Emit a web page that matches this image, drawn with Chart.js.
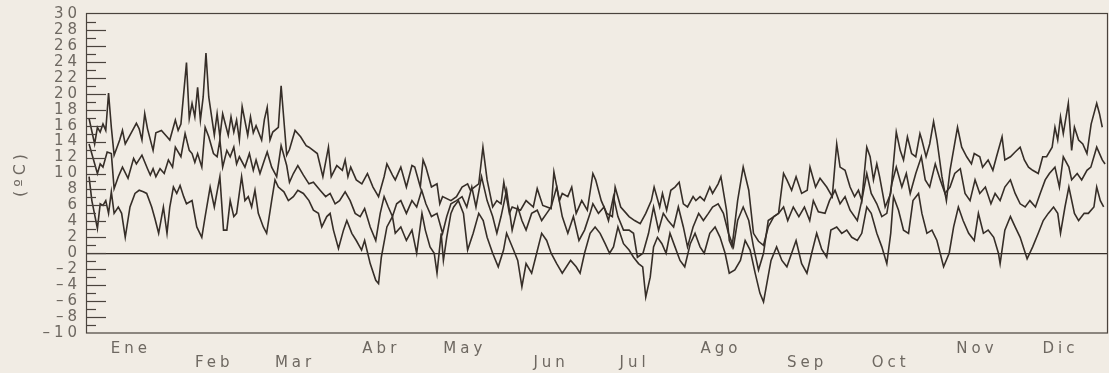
<!DOCTYPE html>
<html>
<head>
<meta charset="utf-8">
<script src="https://cdn.jsdelivr.net/npm/chart.js@4.4.1/dist/chart.umd.min.js"></script>
<style>
html, body { margin: 0; padding: 0; background: #f1ece4; }
#cont { width: 1109px; height: 373px; }
</style>
</head>
<body>
<div id="cont"><canvas id="grafico" width="1109" height="373"></canvas></div>
<script>
// etiquetas del eje x (a mitad de cada mes) y del eje y
const meses = ['Ene', 'Feb', 'Mar', 'Abr', 'May', 'Jun', 'Jul', 'Ago', 'Sep', 'Oct', 'Nov', 'Dic'];
const mitadMes = [15, 45, 74, 105, 135, 166, 196, 227, 258, 288, 319, 349];
const filaMes = [0, 1, 1, 0, 0, 1, 1, 0, 1, 1, 0, 0];
const ticksY = [-10, -8, -6, -4, -2, 0, 2, 4, 6, 8, 10, 12, 14, 16, 18, 20, 22, 24, 26, 28, 30];

// [dia del año, temperatura ºC]
const maximas = [
  [0,16.9],[2,13.7],[3,15.8],[4,15.2],[5,16.2],[6,15.4],[7,20.1],[8,15.8],[9,12.3],[11,14.2],
  [12,15.4],[13,13.7],[15,15.0],[17,16.3],[18,15.6],[19,14.2],[20,17.5],[21,15.6],[23,12.9],[24,15.1],
  [26,15.4],[28,14.6],[29,14.2],[31,16.7],[32,15.4],[33,16.2],[35,23.9],[36,16.9],[37,18.8],[38,17.1],
  [39,20.8],[40,16.7],[41,19.6],[42,25.1],[43,19.6],[45,14.8],[46,17.5],[47,14.6],[48,17.5],[50,14.8],
  [51,17.1],[52,15.2],[53,16.7],[54,14.2],[55,18.4],[57,14.8],[58,17.1],[59,15.1],[60,16.0],[62,14.2],
  [63,16.8],[64,18.3],[65,14.2],[66,15.2],[68,15.8],[69,21.0],[71,12.3],[72,13.0],[74,15.4],[76,14.6],
  [78,13.5],[79,13.3],[82,12.5],[84,9.6],[86,13.3],[87,9.6],[89,11.0],[91,10.4],[92,11.7],[93,9.6],
  [94,10.8],[96,9.2],[98,8.7],[100,10.0],[102,8.3],[104,7.1],[106,9.6],[107,11.2],[109,9.8],[110,9.2],
  [112,10.8],[114,8.3],[116,11.0],[117,10.8],[119,8.3],[120,11.7],[121,10.8],[123,8.3],[125,8.7],[126,6.2],
  [127,7.1],[130,6.6],[132,7.1],[134,8.3],[136,8.7],[137,7.9],[140,8.7],[141.5,13.3],[143,9.2],[145,5.8],
  [146.5,6.6],[148,6.2],[149,8.9],[151,5.0],[152,5.8],[155,5.4],[157,6.6],[159.6,5.8],[161,8.1],[163,6.0],
  [166,5.6],[167,10.2],[169,6.6],[170,7.5],[172,7.1],[173.4,8.3],[175,5.0],[177,6.6],[179,5.4],[181,10.0],
  [182,9.2],[184,6.6],[186,5.0],[188,4.6],[189,8.3],[191,5.8],[193,5.0],[194,4.6],[196,4.1],[198,3.7],
  [200,5.0],[202,6.6],[203,8.3],[205,5.8],[206,7.5],[207.5,5.4],[209,7.9],[210.5,8.3],[212,8.9],[213.5,6.2],
  [215,5.8],[217,7.1],[218,6.6],[219.5,7.1],[221,6.6],[223,8.3],[224,7.5],[226,8.7],[227,9.6],[229,5.4],
  [230,1.6],[231,0.8],[233,6.6],[235,10.8],[237,7.9],[238.7,2.5],[240.5,1.5],[242.3,1.0],[244,3.3],[246,4.6],
  [247.7,5.0],[249.5,10.0],[250.7,9.2],[252.4,7.9],[254,9.6],[256,7.5],[258,7.9],[259,10.8],[261,8.3],[262.6,9.4],
  [265,8.3],[267,7.1],[268.6,13.7],[269.8,10.8],[271.6,10.4],[273.4,8.3],[275,7.1],[276.4,7.9],[277.6,6.6],[279.4,13.3],
  [280.6,12.1],[281.8,9.2],[283,11.2],[284,9.6],[286,5.8],[288,7.5],[290,15.2],[291.4,12.9],[292.6,11.7],[294,14.6],
  [295.5,12.5],[297,12.1],[298.5,15.0],[299.2,14.2],[300.7,12.1],[302,13.7],[303.4,16.5],[304.6,14.2],[306.4,9.6],[308,6.6],
  [309.3,10.4],[312,15.8],[313.5,13.3],[315.3,12.1],[317,11.2],[318,12.5],[320,12.1],[321,10.8],[323,11.7],[324.7,10.4],
  [326,12.1],[328,14.6],[329,11.7],[331,12.1],[332.7,12.7],[334.5,13.3],[336,11.7],[337.5,10.8],[339,10.4],[341,10.0],
  [342.6,12.1],[344,12.1],[346,13.3],[347,15.8],[348,14.2],[349,17.1],[350,15.0],[351.8,18.8],[353,12.9],[354,15.8],
  [355.5,14.2],[357,13.7],[358.5,12.5],[360,16.2],[362,18.8],[363,17.5],[364,15.8]
];

const medias = [
  [0,13.7],[3,10.0],[4,11.2],[5,10.8],[6.5,12.7],[8,12.5],[9,8.1],[10.5,9.6],[12,10.8],[14,9.4],
  [16,11.9],[17,11.2],[19,12.3],[21,10.6],[22,9.8],[23,10.6],[24,9.6],[25.5,10.6],[27,10.0],[28.5,11.7],
  [30,10.8],[31,13.3],[33,12.1],[34.5,15.0],[36,12.9],[37,12.5],[38,11.4],[39,12.5],[40.5,10.8],[41.7,15.8],
  [43,14.6],[44.7,12.5],[46,12.1],[47,14.2],[48,10.8],[49.5,12.9],[50.7,12.1],[52,13.3],[53,11.2],[54,12.1],
  [56,10.8],[57.6,12.5],[59,10.4],[60,11.7],[61.4,10.0],[63,11.7],[64,12.7],[65.6,10.8],[67.4,9.6],[69,13.5],
  [71,11.0],[72,8.9],[73.4,10.0],[75,11.0],[77,9.8],[79,8.7],[80.6,8.9],[83,7.9],[85,7.1],[86.6,7.5],
  [88.4,6.2],[90,6.6],[92,7.7],[93.8,6.6],[95.6,5.0],[97.4,4.6],[99,5.6],[101,3.3],[103,1.6],[104.6,5.0],
  [106,7.1],[107.5,5.8],[109,4.6],[110.5,6.2],[112,6.6],[114,5.0],[116,6.6],[117.7,5.8],[119.5,7.9],[121,6.2],
  [123,4.6],[125,5.0],[127,2.5],[128.5,4.6],[130,6.2],[132,6.6],[134,7.1],[135.7,5.8],[137.5,8.3],[139,5.8],
  [141,9.6],[143,6.6],[145,4.6],[146.5,2.5],[148,4.6],[150,7.9],[152,2.9],[154,5.8],[155.5,4.1],[157,2.9],
  [159,5.0],[161,5.4],[162.6,4.1],[164.4,5.0],[166,5.8],[168,8.3],[170,4.6],[172,2.5],[174,4.6],[176,1.6],
  [178,2.9],[180,5.0],[181,6.2],[183,5.0],[185,5.8],[186.6,4.1],[188.4,7.1],[190,4.6],[192,2.9],[194,2.9],
  [195.6,2.5],[197,-0.5],[199,0.0],[201,2.5],[202.8,5.8],[204.6,2.9],[206.3,5.0],[208,4.1],[210,3.3],[211.7,5.8],
  [213.5,3.3],[215,0.8],[217,3.3],[219,5.0],[220.7,4.1],[222.5,5.0],[224,5.8],[226,6.2],[227.9,5.0],[229.7,2.5],
  [231.5,0.8],[233,4.1],[235,5.8],[237,4.1],[238.7,0.8],[240.5,-2.1],[242.3,0.0],[244,4.1],[246,4.6],[247.7,5.0],
  [249.5,5.8],[251,4.1],[253,5.8],[255,4.6],[257,5.8],[258.9,4.1],[260.2,6.6],[262,5.2],[264.4,5.0],[266,6.6],
  [268,7.9],[269.8,6.2],[271.6,7.1],[273.4,5.4],[276,4.1],[277.6,6.6],[279.4,10.0],[281,7.5],[283,6.2],[284.8,4.6],
  [286.6,5.0],[288.4,8.7],[290,10.8],[292,8.3],[293.6,10.0],[295,7.5],[297,10.0],[299,12.1],[300.4,9.2],[302,8.3],
  [304,11.2],[305.8,9.2],[307.5,7.5],[309.3,8.3],[311,10.0],[313,10.6],[314.7,7.5],[316.5,6.6],[318.3,9.2],[320,7.5],
  [322,8.3],[324,6.2],[325.5,7.5],[327.3,6.6],[329,8.3],[331,9.2],[332.7,7.5],[334.5,6.2],[336.3,5.8],[338,6.6],
  [340,5.8],[341.7,7.5],[343.5,9.2],[345,10.0],[347,10.8],[348.6,8.3],[350,12.1],[352,10.8],[353,9.2],[355,10.0],
  [356.6,9.2],[358.5,10.4],[359.9,10.8],[362,13.3],[364,11.7],[365,11.2]
];

const minimas = [
  [0,9.6],[1,6.6],[3,3.1],[4,6.2],[5,6.0],[6,6.6],[7,5.0],[8,7.7],[9,5.0],[10.5,5.8],
  [11.7,5.0],[13,2.0],[14.7,5.8],[16.5,7.5],[18,7.9],[19.5,7.7],[20.7,7.5],[22.5,5.8],[23.7,4.3],[25,2.5],
  [26.7,5.8],[28,2.5],[29,5.8],[30.3,8.3],[31.5,7.5],[32.7,8.5],[34,7.1],[35,6.2],[37,6.6],[38.7,3.3],
  [40.5,2.0],[41.7,4.6],[43.5,8.3],[45,5.8],[47,9.6],[48.3,2.9],[49.5,2.9],[50.7,6.6],[52,4.6],[53,5.0],
  [54.8,9.6],[56,6.6],[57.2,7.1],[58.4,5.8],[59.6,7.9],[60.8,5.0],[62.6,3.3],[63.8,2.5],[65.6,6.6],[66.8,9.2],
  [68,8.3],[70,7.7],[71.6,6.6],[73.4,7.1],[75,7.9],[77,7.5],[79,6.6],[80.6,5.4],[82.4,5.0],[83.6,3.3],
  [85.4,4.6],[86.6,5.0],[87.8,2.9],[89.6,0.6],[91.4,2.9],[92.6,4.1],[94.4,2.5],[96,1.6],[97.9,0.4],[99,1.6],
  [101,-1.3],[103,-3.4],[104,-3.8],[105,-0.5],[107,3.3],[109,4.6],[110,2.5],[112,3.3],[114,1.6],[116,2.9],
  [117.7,0.0],[119.6,5.0],[120.8,2.9],[122.5,0.8],[124,0.0],[125,-2.5],[126.5,2.5],[127.3,-0.9],[128.5,2.0],[130,5.0],
  [131,5.8],[132.7,6.6],[134.5,5.0],[136,0.4],[138,2.5],[140,5.0],[141.6,4.1],[143,2.0],[145,0.0],[147,-1.7],
  [148.9,0.4],[150,2.5],[152.5,0.4],[154,-0.9],[155.5,-4.2],[157,-1.3],[159,-2.5],[160.8,0.0],[162.6,2.5],[164.4,1.6],
  [166,0.0],[168,-1.3],[170,-2.5],[173,-0.9],[175,-1.7],[176.4,-2.5],[178,0.0],[180,2.5],[181.8,3.3],[183.6,2.5],
  [185.4,1.2],[187,0.0],[188.4,0.8],[190,3.3],[192,1.2],[194,0.4],[195.6,-0.5],[197.4,-1.3],[198.9,-1.7],[200,-5.5],
  [201.6,-3.0],[202.8,0.8],[204.2,2.0],[205.8,1.2],[207.3,0.0],[208.7,2.5],[210.5,0.8],[212.3,-0.9],[214,-1.7],[216,1.2],
  [217.7,2.5],[219.5,0.8],[221,0.0],[223,2.5],[224.9,3.3],[226.7,2.0],[228.5,0.0],[230,-2.5],[232,-2.1],[234,-0.9],
  [235.7,1.6],[237.5,0.4],[239.3,-2.5],[241,-5.0],[242.3,-6.1],[243.7,-3.4],[245,-0.9],[247,0.8],[248.9,-0.9],[250.7,-1.7],
  [252.4,0.0],[254,1.6],[256,-1.3],[257.9,-2.5],[259.6,0.0],[261.4,2.5],[263.2,0.5],[265,-0.5],[266.5,2.9],[268.6,3.3],
  [270.4,2.5],[272.2,2.9],[274,2.0],[276,1.6],[277.6,2.5],[279.4,5.8],[281,5.0],[283,2.5],[284.8,0.8],[286.6,-1.3],
  [288,2.5],[289,7.1],[290.8,5.4],[292.6,2.9],[294.4,2.5],[296,6.6],[298,7.5],[299.2,5.0],[301,2.5],[302.8,2.9],
  [304.6,1.6],[307,-1.7],[309,0.0],[310.6,3.3],[312.3,5.8],[314,4.1],[316,2.5],[318,1.6],[319.5,5.0],[321.3,2.5],
  [323,2.9],[325,2.0],[326.7,0.0],[327.3,-1.3],[329,2.9],[331,4.6],[332.7,3.3],[334.5,2.0],[337,-0.7],[339,0.8],
  [341,2.5],[342.8,4.1],[344.6,5.0],[346.5,5.8],[348,5.0],[349,2.5],[350.6,5.8],[352,8.3],[354,5.0],[355.5,4.1],
  [357.5,5.0],[359,5.0],[361,5.8],[362,8.3],[363.3,6.6],[364.5,5.8]
];

const tinta = '#362e28';
const textoColor = '#6e6861';
const fuente = "'DejaVu Sans', sans-serif";

const marco = {
  id: 'marco',
  beforeLayout(chart) { chart.ctx.letterSpacing = '4px'; },
  beforeDraw(chart) {
    chart.ctx.letterSpacing = '4px';
  },
  afterDraw(chart) {
    const { ctx, chartArea: a, scales: { y } } = chart;
    ctx.save();
    ctx.strokeStyle = '#4a433d';
    ctx.lineWidth = 1.2;
    ctx.strokeRect(a.left + 0.5, a.top - 0.5, a.right - a.left, a.bottom - a.top + 0.5);
    // marcas hacia dentro del eje y
    for (let v = -9; v < 30; v++) {
      const py = Math.round(y.getPixelForValue(v)) + 0.5;
      const largo = v % 2 === 0 ? 20 : 10;
      ctx.beginPath();
      ctx.moveTo(a.left, py);
      ctx.lineTo(a.left + largo, py);
      ctx.stroke();
    }
    ctx.restore();
  }
};

function serie(puntos) {
  return {
    data: puntos.map(p => ({ x: p[0], y: p[1] })),
    borderColor: tinta,
    borderWidth: 1.6,
    pointRadius: 0,
    tension: 0,
    fill: false
  };
}

const ctx = document.getElementById('grafico').getContext('2d');
new Chart(ctx, {
  type: 'line',
  data: { datasets: [serie(maximas), serie(medias), serie(minimas)] },
  plugins: [marco],
  options: {
    responsive: false,
    animation: false,
    devicePixelRatio: 1,
    layout: { padding: { top: 14, right: 2, left: 0, bottom: 0 } },
    plugins: { legend: { display: false }, tooltip: { enabled: false } },
    scales: {
      x: {
        type: 'linear',
        min: -1.1,
        max: 365.7,
        afterFit(s) { s.height = 40; },
        afterBuildTicks(s) { s.ticks = mitadMes.map(v => ({ value: v })); },
        ticks: {
          autoSkip: false, maxRotation: 0, minRotation: 0, padding: 9,
          color: textoColor,
          font: { family: fuente, size: 15, lineHeight: '14px' },
          callback: (v, i) => filaMes[i] ? ['', meses[i]] : [meses[i]]
        },
        grid: { display: false, drawTicks: false },
        border: { display: false }
      },
      y: {
        min: -10,
        max: 30,
        afterFit(s) { s.width = 86; },
        afterBuildTicks(s) { s.ticks = ticksY.map(v => ({ value: v })); },
        ticks: {
          autoSkip: false, padding: 5,
          color: textoColor,
          font: { family: fuente, size: 15, lineHeight: 1 },
          callback: v => v < 0 ? '\u2013' + Math.abs(v) : String(v)
        },
        grid: {
          drawTicks: false,
          color: c => (c.tick && c.tick.value === 0) ? tinta : 'rgba(0,0,0,0)',
          lineWidth: 1.3
        },
        border: { display: false },
        title: {
          display: true, text: '(ºC)', color: textoColor,
          font: { family: fuente, size: 16 },
          padding: { top: 11, bottom: 0 }
        }
      }
    }
  }
});
</script>
</body>
</html>
